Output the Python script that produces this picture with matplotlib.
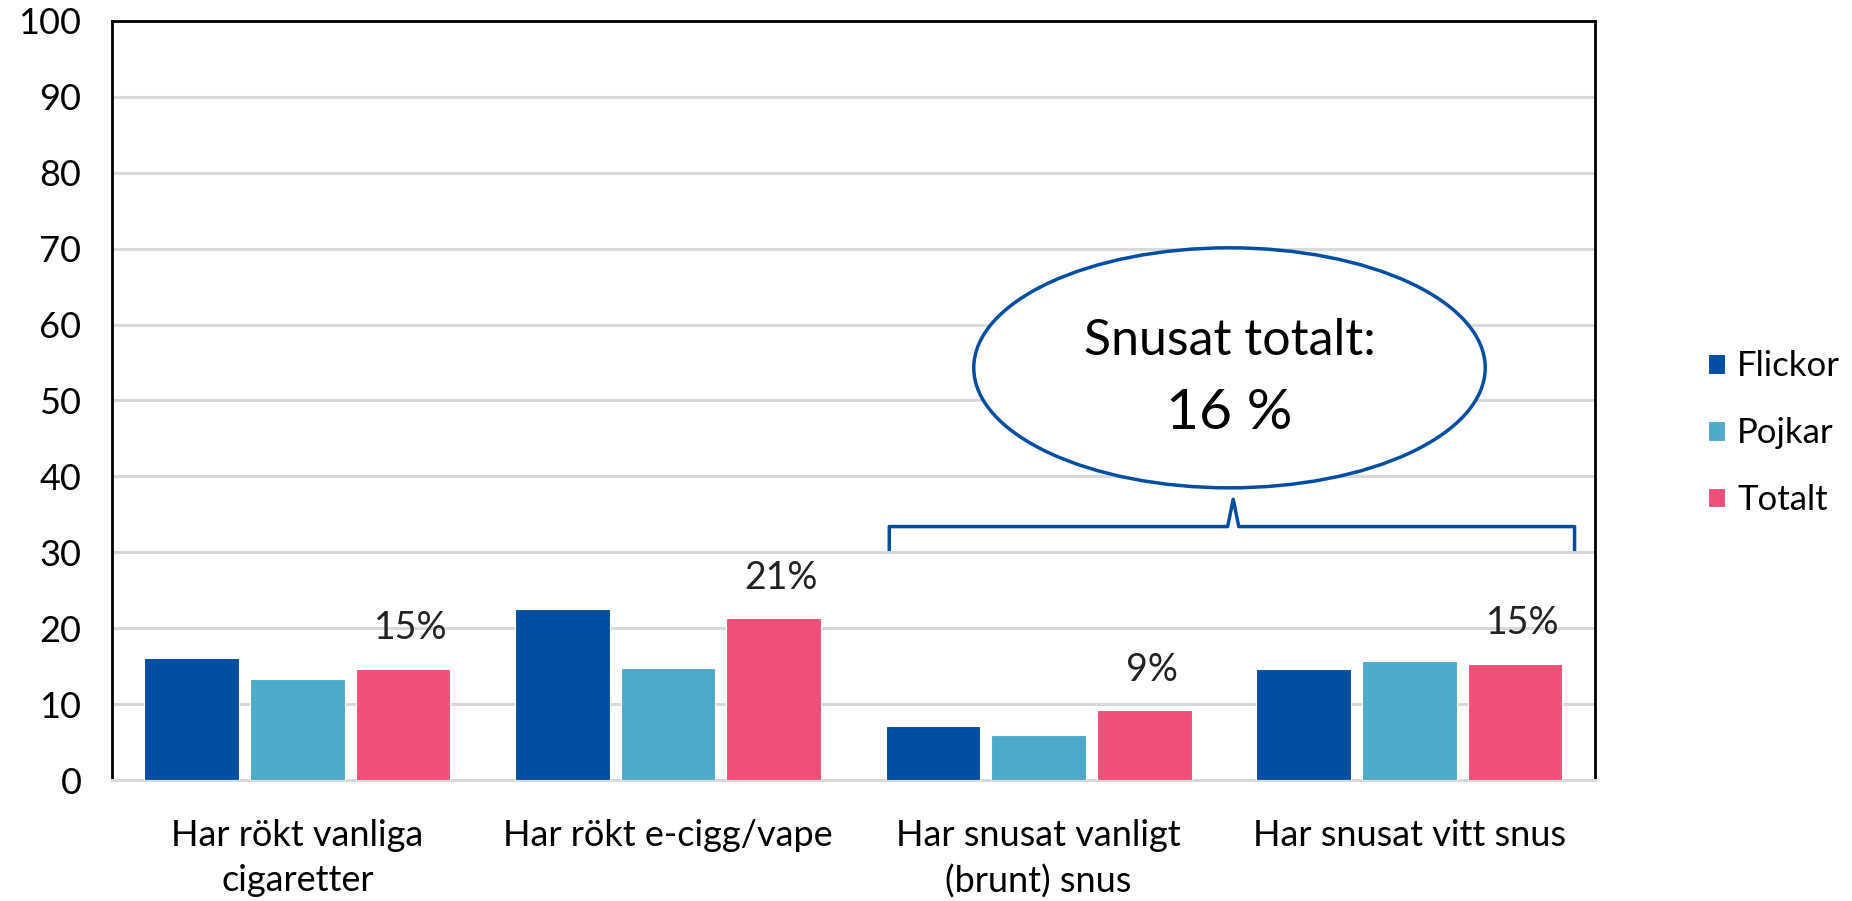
import numpy as np
import matplotlib.pyplot as plt
from matplotlib.patches import Ellipse

# data
kategorier = ["Har rökt vanliga\ncigaretter", "Har rökt e-cigg/vape",
              "Har snusat vanligt\n(brunt) snus", "Har snusat vitt snus"]
flickor = [16.1, 22.5, 7.2, 14.7]
pojkar = [13.3, 14.8, 6.0, 15.7]
totalt = [14.7, 21.3, 9.2, 15.3]
etiketter = ["15%", "21%", "9%", "15%"]
snus_totalt = "16 %"

farger = ["#034EA2", "#4EAACB", "#EF5077"]

plt.rcParams['font.family'] = ['Lato', 'DejaVu Sans']

fig = plt.figure(figsize=(18.52, 9.01), dpi=100)
ax = fig.add_axes([0.0605, 0.134, 0.8005, 0.843])

x = np.arange(len(kategorier))
w = 0.255
steg = 0.285
for i, (serie, namn) in enumerate(zip([flickor, pojkar, totalt], ["Flickor", "Pojkar", "Totalt"])):
    ax.bar(x + (i - 1) * steg, serie, width=w, color=farger[i], label=namn,
           edgecolor="white", linewidth=0.8, zorder=3)

for xi, v, t in zip(x, totalt, etiketter):
    ax.text(xi + steg + 0.02, v + 3.0, t, ha="center", va="bottom",
            fontsize=27, color="#222222")

ax.set_xlim(-0.5, 3.5)
ax.set_ylim(0, 100)
ax.set_yticks(range(0, 101, 10))
ax.yaxis.grid(True, color="#d9d9d9", linewidth=2.2, zorder=0)
ax.set_axisbelow(True)
ax.set_xticks(x)
ax.set_xticklabels(kategorier, fontsize=26, linespacing=1.45)
ax.tick_params(axis="x", length=0, pad=28)
ax.tick_params(axis="y", length=0, pad=22, labelsize=26)
for s in ["left", "top", "right"]:
    ax.spines[s].set_color("black")
    ax.spines[s].set_linewidth(2)
ax.spines["bottom"].set_color("#d9d9d9")
ax.spines["bottom"].set_linewidth(2.2)

# ellips med text
ell = Ellipse((2.515, 54.3), 1.38, 31.6, facecolor="white", edgecolor="#034EA2",
              linewidth=2.5, zorder=5)
ax.add_patch(ell)
ax.text(2.515, 57.8, "Snusat totalt:", ha="center", va="center", fontsize=36, zorder=6)
ax.text(2.515, 48.3, snus_totalt, ha="center", va="center", fontsize=41, zorder=6)

# klammer
bx0, bx1, bmid = 1.597, 3.446, 2.525
ax.plot([bx0, bx0, bmid - 0.015, bmid, bmid + 0.015, bx1, bx1],
        [30.4, 33.4, 33.4, 37.0, 33.4, 33.4, 30.4],
        color="#034EA2", linewidth=2.5, zorder=6, solid_joinstyle="round")

ax.legend(loc="center left", bbox_to_anchor=(1.06, 0.457), frameon=False,
          handlelength=0.5, handleheight=0.5, handletextpad=0.35,
          labelspacing=1.0, borderaxespad=0.3, prop={"size": 25})

fig.savefig("out.png", dpi=100)
